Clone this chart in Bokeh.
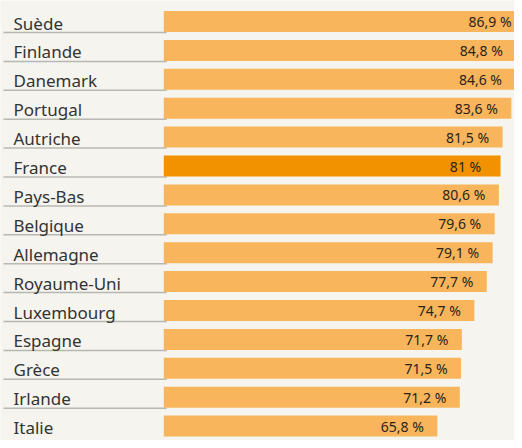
from bokeh.plotting import figure
from bokeh.models import Range1d, ColumnDataSource
from bokeh.core.properties import value
from bokeh.embed import file_html
from bokeh.resources import INLINE

countries = ["Suède", "Finlande", "Danemark", "Portugal", "Autriche", "France",
             "Pays-Bas", "Belgique", "Allemagne", "Royaume-Uni", "Luxembourg",
             "Espagne", "Grèce", "Irlande", "Italie"]
values = [86.9, 84.8, 84.6, 83.6, 81.5, 81.0, 80.6, 79.6, 79.1, 77.7, 74.7,
          71.7, 71.5, 71.2, 65.8]
value_labels = ["86,9 %", "84,8 %", "84,6 %", "83,6 %", "81,5 %", "81 %",
                "80,6 %", "79,6 %", "79,1 %", "77,7 %", "74,7 %", "71,7 %",
                "71,5 %", "71,2 %", "65,8 %"]
highlight = "France"

W, H = 514, 440
SCALE = 4.157          # px per percent
ZERO = 163.3           # px of zero in figure
PITCH = 28.9           # px per row
TOP = 21.0             # px of first row centre

BG = "#f5f4ee"
BAR = "#f8b55c"
BAR_HI = "#f39200"

px = 1.0 / SCALE
py = 1.0 / PITCH

rows = list(range(len(countries)))
colors = [BAR_HI if c == highlight else BAR for c in countries]

src = ColumnDataSource(dict(y=rows, v=values, c=colors, name=countries, lab=value_labels))

p = figure(width=W, height=H, output_backend="svg", toolbar_location=None,
           x_range=Range1d(-ZERO * px, (W - ZERO) * px),
           y_range=Range1d((H - TOP) * py, -TOP * py),
           min_border=0, outline_line_color=None,
           background_fill_color=BG, border_fill_color=BG)
p.axis.visible = False
p.grid.visible = False

# separator lines under labels (the last one falls below the visible area)
ly = [r + 11.0 * py for r in rows[:-1]]
p.segment(x0=-(ZERO - 3) * px, x1=3 * px, y0=ly, y1=ly,
          line_color="#b8b8b2", line_width=1.5)

p.hbar(y="y", right="v", left=0, height=21 * py, fill_color="c",
       line_color=None, source=src)

p.text(x=-(ZERO - 13) * px, y=[r + 1.5 * py for r in rows], text=countries,
       text_font=value("Noto Sans"), text_font_size="17px", text_color="#333333",
       text_baseline="middle", text_align="left")

p.text(x="v", y="y", text="lab", source=src, x_offset=-35,
       text_font=value("Noto Sans"), text_font_size="14px", text_color="#2a2418",
       text_baseline="middle", text_align="center")

open("out.html", "w").write(file_html(p, INLINE))
